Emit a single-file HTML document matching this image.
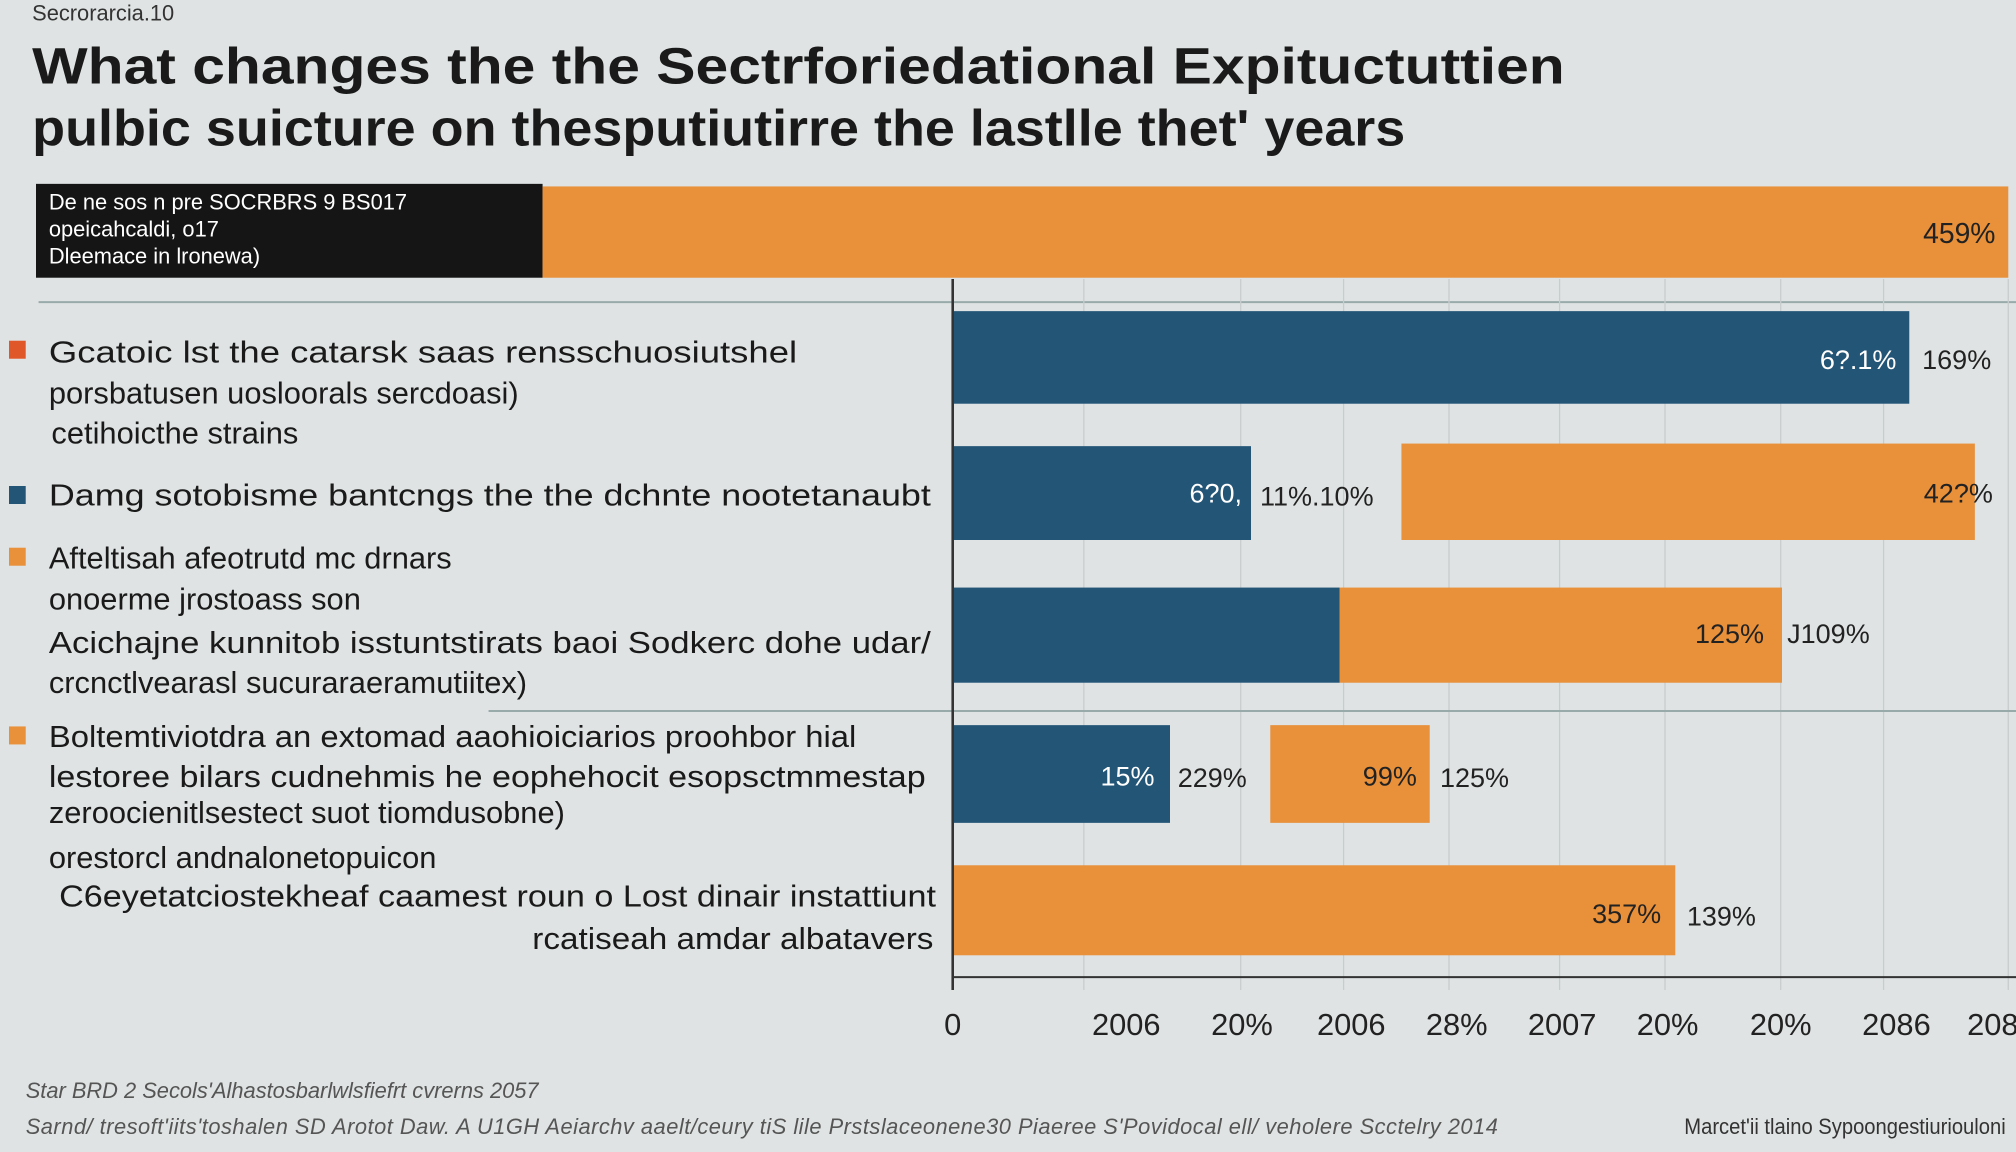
<!DOCTYPE html>
<html><head><meta charset="utf-8"><style>
html,body{margin:0;padding:0;background:#dfe3e3;}
svg{display:block}
text{font-family:"Liberation Sans",sans-serif;}
</style></head><body>
<svg width="2016" height="1152" viewBox="0 0 1568 896" xmlns="http://www.w3.org/2000/svg">
<rect width="1568" height="896" fill="#dfe3e3"/>
<text x="25" y="16" font-size="17" fill="#333">Secrorarcia.10</text>
<text x="25" y="65" font-size="40" font-weight="bold" fill="#1a1a1a" textLength="1192" lengthAdjust="spacingAndGlyphs">What changes the the Sectrforiedational Expituctuttien</text>
<text x="25" y="113" font-size="40" font-weight="bold" fill="#1a1a1a" textLength="1068" lengthAdjust="spacingAndGlyphs">pulbic suicture on thesputiutirre the lastlle thet' years</text>
<rect x="28" y="143" width="394" height="73" fill="#151515"/>
<rect x="422" y="145" width="1140" height="71" fill="#e8903a"/>
<text x="38" y="163" font-size="17" fill="#fff">De ne sos n pre SOCRBRS 9 BS017</text>
<text x="38" y="184" font-size="17" fill="#fff">opeicahcaldi, o17</text>
<text x="38" y="205" font-size="17" fill="#fff">Dleemace in lronewa)</text>
<text x="1552" y="189" font-size="22" fill="#222" text-anchor="end">459%</text>
<line x1="30" y1="235" x2="1568" y2="235" stroke="#9aa" stroke-width="1.5"/>
<g stroke="#c8cccc" stroke-width="1">
<line x1="843" y1="217" x2="843" y2="770"/><line x1="965" y1="217" x2="965" y2="770"/><line x1="1045" y1="217" x2="1045" y2="770"/><line x1="1127" y1="217" x2="1127" y2="770"/><line x1="1213" y1="217" x2="1213" y2="770"/><line x1="1295" y1="217" x2="1295" y2="770"/><line x1="1385" y1="217" x2="1385" y2="770"/><line x1="1465" y1="217" x2="1465" y2="770"/><line x1="1562" y1="217" x2="1562" y2="770"/>
</g>
<line x1="380" y1="553" x2="1568" y2="553" stroke="#9aa" stroke-width="1.5"/>
<rect x="742" y="242" width="743" height="72" fill="#235577"/>
<text x="1475" y="287" font-size="21" fill="#fff" text-anchor="end">6?.1%</text>
<text x="1495" y="287" font-size="21" fill="#222">169%</text>
<rect x="742" y="347" width="231" height="73" fill="#235577"/>
<text x="966" y="391" font-size="21" fill="#fff" text-anchor="end">6?0,</text>
<text x="980" y="393" font-size="21" fill="#222">11%.10%</text>
<rect x="1090" y="345" width="446" height="75" fill="#e8903a"/>
<text x="1550" y="391" font-size="21" fill="#222" text-anchor="end">42?%</text>
<rect x="742" y="457" width="300" height="74" fill="#235577"/>
<rect x="1042" y="457" width="344" height="74" fill="#e8903a"/>
<text x="1372" y="500" font-size="21" fill="#222" text-anchor="end">125%</text>
<text x="1390" y="500" font-size="21" fill="#222">J109%</text>
<rect x="742" y="564" width="168" height="76" fill="#235577"/>
<text x="898" y="611" font-size="21" fill="#fff" text-anchor="end">15%</text>
<text x="916" y="612" font-size="21" fill="#222">229%</text>
<rect x="988" y="564" width="124" height="76" fill="#e8903a"/>
<text x="1102" y="611" font-size="21" fill="#222" text-anchor="end">99%</text>
<text x="1120" y="612" font-size="21" fill="#222">125%</text>
<rect x="742" y="673" width="561" height="70" fill="#e8903a"/>
<text x="1292" y="718" font-size="21" fill="#222" text-anchor="end">357%</text>
<text x="1312" y="720" font-size="21" fill="#222">139%</text>
<line x1="741" y1="217" x2="741" y2="770" stroke="#333" stroke-width="2"/>
<line x1="741" y1="760" x2="1568" y2="760" stroke="#333" stroke-width="1.5"/>
<g font-size="24" fill="#222" text-anchor="middle">
<text x="741" y="805">0</text><text x="876" y="805">2006</text><text x="966" y="805">20%</text><text x="1051" y="805">2006</text><text x="1133" y="805">28%</text><text x="1215" y="805">2007</text><text x="1297" y="805">20%</text><text x="1385" y="805">20%</text><text x="1475" y="805">2086</text><text x="1550" y="805">208</text>
</g>
<rect x="7" y="265" width="13" height="14" fill="#e0572a"/>
<rect x="7" y="378" width="13" height="14" fill="#235577"/>
<rect x="7" y="426" width="13" height="14" fill="#e8903a"/>
<rect x="7" y="565" width="13" height="14" fill="#e8903a"/>
<g font-size="24" fill="#1a1a1a">
<text x="38" y="282" textLength="582" lengthAdjust="spacingAndGlyphs">Gcatoic lst the catarsk saas rensschuosiutshel</text>
<text x="38" y="314">porsbatusen uosloorals sercdoasi)</text>
<text x="40" y="345">cetihoicthe strains</text>
<text x="38" y="393" textLength="686" lengthAdjust="spacingAndGlyphs">Damg sotobisme bantcngs the the dchnte nootetanaubt</text>
<text x="38" y="442">Afteltisah afeotrutd mc drnars</text>
<text x="38" y="474">onoerme jrostoass son</text>
<text x="38" y="508" textLength="686" lengthAdjust="spacingAndGlyphs">Acichajne kunnitob isstuntstirats baoi Sodkerc dohe udar/</text>
<text x="38" y="539">crcnctlvearasl sucuraraeramutiitex)</text>
<text x="38" y="581" textLength="628" lengthAdjust="spacingAndGlyphs">Boltemtiviotdra an extomad aaohioiciarios proohbor hial</text>
<text x="38" y="612" textLength="682" lengthAdjust="spacingAndGlyphs">lestoree bilars cudnehmis he eophehocit esopsctmmestap</text>
<text x="38" y="640">zeroocienitlsestect suot tiomdusobne)</text>
<text x="38" y="675">orestorcl andnalonetopuicon</text>
<text x="46" y="705" textLength="682" lengthAdjust="spacingAndGlyphs">C6eyetatciostekheaf caamest roun o Lost dinair instattiunt</text>
<text x="414" y="738" textLength="312" lengthAdjust="spacingAndGlyphs">rcatiseah amdar albatavers</text>
</g>
<text x="20" y="854" font-size="17" fill="#555" font-style="italic">Star BRD 2 Secols'Alhastosbarlwlsfiefrt cvrerns 2057</text>
<text x="20" y="882" font-size="17" fill="#555" font-style="italic" textLength="1145">Sarnd/ tresoft'iits'toshalen SD Arotot Daw. A U1GH Aeiarchv aaelt/ceury tiS lile Prstslaceonene30 Piaeree S'Povidocal ell/ veholere Scctelry 2014</text>
<text x="1310" y="882" font-size="17" fill="#333" textLength="250" lengthAdjust="spacingAndGlyphs">Marcet'ii tlaino Sypoongestiuriouloni</text>
</svg>
</body></html>
